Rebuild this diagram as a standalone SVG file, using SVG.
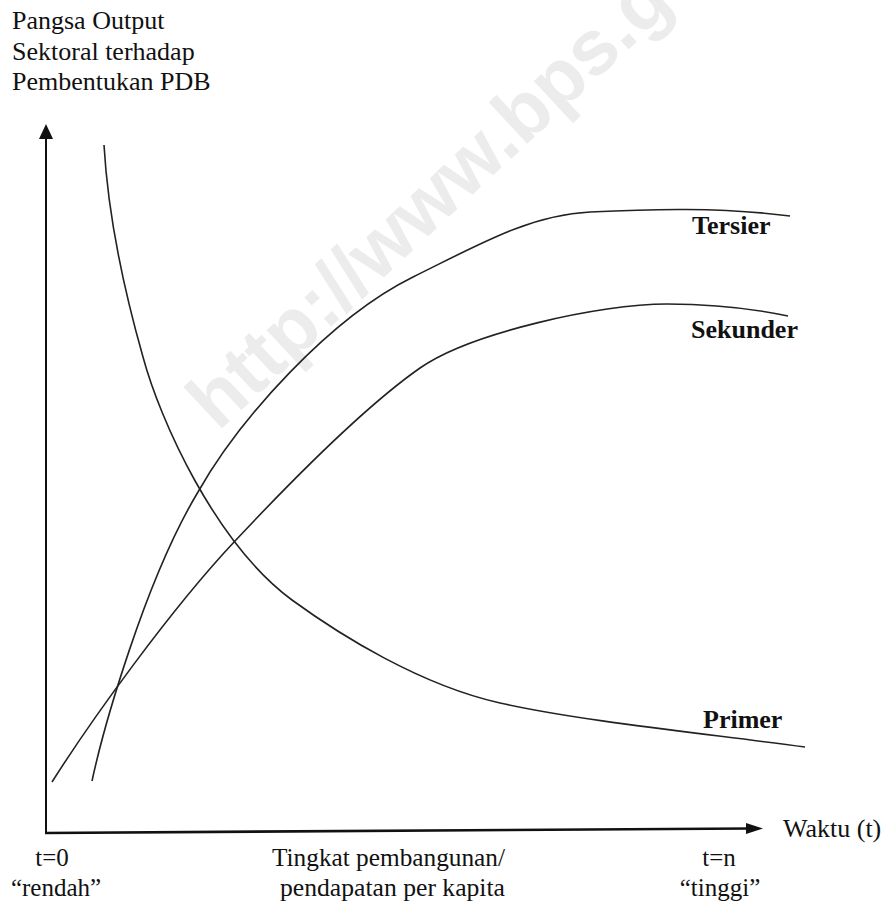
<svg xmlns="http://www.w3.org/2000/svg" width="887" height="903" viewBox="0 0 887 903">
<style>
.t{font-family:"Liberation Serif","Times New Roman",serif;font-size:26px;fill:#111}
.b{font-family:"Liberation Serif","Times New Roman",serif;font-size:26px;font-weight:bold;fill:#111}
.s{font-family:"Liberation Serif","Times New Roman",serif;font-size:25px;fill:#111}
.c{fill:none;stroke:#222;stroke-width:1.6}
.ax{stroke:#111;fill:none}
.wm{font-family:"Liberation Sans",Arial,sans-serif;font-size:78px;font-weight:bold;fill:#ececec}
</style>
<rect width="887" height="903" fill="#fff"/>
<text class="wm" transform="translate(218,432) rotate(-43)">http://www.bps.g</text>
<g id="y-label">
<text class="t" x="12" y="29">Pangsa Output</text>
<text class="t" x="12" y="60">Sektoral terhadap</text>
<text class="t" x="12" y="90">Pembentukan PDB</text>
</g>
<g id="axes">
<line class="ax" x1="46" y1="834" x2="46" y2="136" stroke-width="2"/>
<polygon points="46,124 39,139 53,139" fill="#111"/>
<line class="ax" x1="45" y1="833" x2="750" y2="828.5" stroke-width="2.6"/>
<polygon points="763,828.5 746,823 746,834" fill="#111"/>
</g>
<g id="connectors">
<path id="tersier-curve" class="c" d="M92,781 C103,730 145,580 198,492 C240,418 330,318 413,277 C480,244 530,215 590,212 C650,209 720,207 790,216"/>
<path id="sekunder-curve" class="c" d="M52,782 C90,722 170,610 235,541 C280,493 360,410 420,368 C470,333 600,304 667,304 C710,304 750,308 788,316"/>
<path id="primer-curve" class="c" d="M104,145 C108,215 124,290 143,357 C160,420 215,543 292,600 C340,635 420,685 500,703 C580,721 700,733 805,747"/>
</g>
<g id="tersier"><text class="b" x="692" y="234">Tersier</text></g>
<g id="sekunder"><text class="b" x="691" y="338">Sekunder</text></g>
<g id="primer"><text class="b" x="703" y="728">Primer</text></g>
<g id="x-label"><text class="t" x="783" y="837">Waktu (t)</text></g>
<g id="t0">
<text class="s" x="52" y="866" text-anchor="middle">t=0</text>
<text class="s" x="56" y="896" text-anchor="middle">“rendah”</text>
</g>
<g id="mid">
<text class="s" x="272" y="866" textLength="233" lengthAdjust="spacingAndGlyphs">Tingkat pembangunan/</text>
<text class="s" x="280" y="896" textLength="225" lengthAdjust="spacingAndGlyphs">pendapatan per kapita</text>
</g>
<g id="tn">
<text class="s" x="719" y="866" text-anchor="middle">t=n</text>
<text class="s" x="720" y="896" text-anchor="middle">“tinggi”</text>
</g>
</svg>
